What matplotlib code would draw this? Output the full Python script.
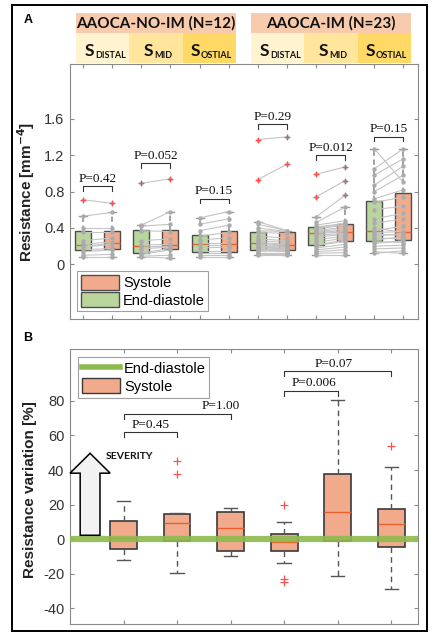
import matplotlib
matplotlib.use("Agg")
import matplotlib.pyplot as plt
from matplotlib.patches import Rectangle, Polygon, Patch
from matplotlib.lines import Line2D

plt.rcParams['axes.unicode_minus'] = False
plt.rcParams['font.family'] = ['Liberation Sans', 'DejaVu Sans']

# ---------------- Panel A data (resistance, mm^-4) ----------------
diast_noim_distal = [0.08, 0.10, 0.14, 0.16, 0.19, 0.20, 0.22, 0.26, 0.35, 0.40, 0.53, 0.71]
syst_noim_distal  = [0.08, 0.11, 0.16, 0.175, 0.22, 0.23, 0.25, 0.29, 0.35, 0.40, 0.57, 0.67]
diast_noim_mid    = [0.08, 0.09, 0.11, 0.123, 0.17, 0.19, 0.21, 0.26, 0.37, 0.42, 0.43, 0.89]
syst_noim_mid     = [0.07, 0.10, 0.16, 0.175, 0.19, 0.20, 0.22, 0.28, 0.36, 0.44, 0.58, 0.94]
diast_noim_ost    = [0.08, 0.10, 0.13, 0.143, 0.18, 0.21, 0.23, 0.27, 0.31, 0.37, 0.44, 0.51]
syst_noim_ost     = [0.08, 0.10, 0.13, 0.143, 0.19, 0.21, 0.23, 0.29, 0.35, 0.43, 0.50, 0.58]
diast_im_distal = [0.10, 0.11, 0.12, 0.13, 0.15, 0.155, 0.165, 0.18, 0.19, 0.20, 0.22, 0.23,
                   0.24, 0.26, 0.28, 0.31, 0.35, 0.37, 0.40, 0.44, 0.47, 0.93, 1.37]
syst_im_distal  = [0.10, 0.11, 0.12, 0.13, 0.14, 0.155, 0.165, 0.17, 0.18, 0.19, 0.20, 0.21,
                   0.22, 0.24, 0.26, 0.29, 0.34, 0.36, 0.36, 0.37, 0.37, 1.10, 1.40]
diast_im_mid = [0.10, 0.12, 0.14, 0.16, 0.18, 0.205, 0.215, 0.24, 0.27, 0.30, 0.32, 0.34,
                0.35, 0.36, 0.37, 0.39, 0.40, 0.41, 0.43, 0.46, 0.52, 0.74, 0.99]
syst_im_mid  = [0.10, 0.13, 0.16, 0.19, 0.22, 0.255, 0.265, 0.29, 0.31, 0.33, 0.34, 0.355,
                0.37, 0.39, 0.41, 0.43, 0.44, 0.45, 0.48, 0.63, 0.76, 0.92, 1.07]
diast_im_ost = [0.12, 0.14, 0.17, 0.20, 0.23, 0.25, 0.27, 0.29, 0.31, 0.33, 0.35, 0.37,
                0.40, 0.45, 0.50, 0.60, 0.68, 0.72, 0.80, 0.87, 0.98, 1.05, 1.27]
syst_im_ost  = [0.15, 0.12, 0.18, 0.21, 0.26, 0.24, 0.30, 0.28, 0.34, 0.32, 0.36, 0.42,
                0.35, 0.50, 0.56, 0.64, 0.74, 0.82, 0.98, 1.08, 1.16, 1.27, 0.90]

pairs_a = [(diast_noim_distal, syst_noim_distal), (diast_noim_mid, syst_noim_mid),
           (diast_noim_ost, syst_noim_ost), (diast_im_distal, syst_im_distal),
           (diast_im_mid, syst_im_mid), (diast_im_ost, syst_im_ost)]
p_labels_a = ["P=0.42", "P=0.052", "P=0.15", "P=0.29", "P=0.012", "P=0.15"]
p_heights_a = [0.86, 1.11, 0.72, 1.54, 1.20, 1.40]
yticks_a = [0, 0.4, 0.8, 1.2, 1.6]
yticklabels_a = ["0", "0.4", "0.8", "1.2", "1.6"]

# ---------------- Panel B data (resistance variation, %) ----------------
var_q1  = [-5.8, -1.2, -7.0, -7.0, -1.2, -4.6]
var_med = [1.0, 9.2, 6.4, -1.7, 16.0, 8.7]
var_q3  = [10.4, 14.5, 16.0, 3.0, 37.6, 17.3]
var_lo  = [-12.0, -19.7, -9.8, -14.0, -21.4, -29.0]
var_hi  = [22.0, 15.0, 18.0, 9.8, 80.6, 42.0]
var_fliers = [[], [45.0, 37.6], [], [20.0, -23.0, -25.0], [], [54.0]]
brackets_b = [(1, 2, 62.0, "P=0.45", 1.5), (1, 3, 72.5, "P=1.00", 2.82),
              (4, 5, 85.8, "P=0.006", 4.55), (4, 6, 97.0, "P=0.07", 4.92)]
yticks_b = [-40, -20, 0, 20, 40, 60, 80]

headers = ["AAOCA-NO-IM (N=12)", "AAOCA-IM (N=23)"]
segments = ["DISTAL", "MID", "OSTIAL"]

# ---------------- style ----------------
W, H = 435, 639
GREEN = '#B9D79C'
ORANGE = '#F1AB8C'
EDGE = '#4d4d4d'
MED = '#E8612A'
GREYPT = '#ABABAB'
GREYLN = '#C4C4C4'
TICKC = '#333333'
SPINE = '#8a8a8a'

fig = plt.figure(figsize=(W / 100, H / 100), dpi=100)

def fx(px):
    return px / W

def fy(py):
    return 1 - py / H

# outer frame
fig.add_artist(Rectangle((fx(12), fy(631)), fx(427) - fx(12), fy(5) - fy(631),
                         transform=fig.transFigure, fill=False, ec='black', lw=1.4))

# header bands
hdr_col = '#F8CBAD'
seg_cols = ['#FFF3D0', '#FFE69C', '#FFD966']
group_x = [(76, 236), (251, 411)]
for gi, (x0, x1) in enumerate(group_x):
    fig.add_artist(Rectangle((fx(x0), fy(33)), fx(x1) - fx(x0), fy(13) - fy(33),
                             transform=fig.transFigure, color=hdr_col, lw=0, zorder=0))
    cw = (x1 - x0) / 3
    for si in range(3):
        cx0 = x0 + si * cw
        fig.add_artist(Rectangle((fx(cx0), fy(63)), fx(cw), fy(33) - fy(63),
                                 transform=fig.transFigure, color=seg_cols[si], lw=0,
                                 zorder=0))

overlay = fig.add_axes([0, 0, 1, 1], zorder=10)
overlay.set_axis_off()
overlay.set_xlim(0, W)
overlay.set_ylim(H, 0)
for gi, (x0, x1) in enumerate(group_x):
    overlay.text((x0 + x1) / 2, 23.5, headers[gi], ha='center', va='center',
                 fontsize=11, weight='bold', family='Lato', color='#111111')

fig.canvas.draw()
renderer = fig.canvas.get_renderer()
s_starts = [85, 144, 191, 260, 319, 366]
for k, xs in enumerate(s_starts):
    t = overlay.text(xs, 55.5, "S", ha='left', va='baseline', fontsize=12.5,
                     weight='bold', family='Lato', color='#111111')
    bb = t.get_window_extent(renderer)
    x_end = bb.x1 * W / fig.bbox.width
    overlay.text(x_end + 0.3, 57.5, segments[k % 3], ha='left', va='baseline',
                 fontsize=6.5, weight='bold', family='Lato', color='#111111')

overlay.text(28, 20, "A", ha='center', va='center', fontsize=9, weight='bold')
overlay.text(28, 338, "B", ha='center', va='center', fontsize=9, weight='bold')

# ---------------- Panel A ----------------
axA = fig.add_axes([fx(70), fy(319), fx(418) - fx(70), fy(64) - fy(319)])
for i, (d, s) in enumerate(pairs_a):
    xd, xs_ = 2 * i + 1, 2 * i + 2
    for vd, vs in zip(d, s):
        axA.plot([xd, xs_], [vd, vs], color=GREYLN, lw=0.8, zorder=4)
    for x, vals, col in ((xd, d, GREEN), (xs_, s, ORANGE)):
        bp = axA.boxplot([vals], positions=[x], widths=0.55, patch_artist=True,
                         manage_ticks=False,
                         boxprops=dict(facecolor=col, edgecolor=EDGE, lw=1.0),
                         medianprops=dict(color=MED, lw=1.0),
                         whiskerprops=dict(color='#9a9a9a', lw=1.3, linestyle=(0, (3, 2))),
                         capprops=dict(color='#9a9a9a', lw=1.0),
                         flierprops=dict(marker='+', markeredgecolor='#FF5050',
                                         markersize=5, markeredgewidth=0.8))
        for art in bp['boxes']:
            art.set_zorder(2)
        for art in bp['medians']:
            art.set_zorder(3)
        for art in bp['fliers']:
            art.set_zorder(6)
        axA.plot([x] * len(vals), vals, 'o', color=GREYPT, ms=3.2, mec='none', zorder=5)
    # bracket
    yb = p_heights_a[i]
    axA.plot([xd, xd, xs_, xs_], [yb - 0.05, yb, yb, yb - 0.05], color='#333333', lw=0.8)
    axA.text((xd + xs_) / 2, yb + 0.015, p_labels_a[i], ha='center', va='bottom',
             fontsize=9.5, family='Liberation Serif', color='#111111')

axA.set_xlim(0.55, 12.5)
axA.set_ylim(-0.6, 2.2)
axA.set_xticks(range(1, 13))
axA.set_xticklabels([])
axA.set_yticks(yticks_a)
axA.set_yticklabels(yticklabels_a)
axA.tick_params(direction='in', length=3, top=True, right=True, labelsize=10.5,
                labelcolor=TICKC, color=SPINE, width=0.8, pad=4)
for sp in axA.spines.values():
    sp.set_color(SPINE)
    sp.set_linewidth(0.8)
axA.set_ylabel("Resistance [mm$^{\\mathbf{-4}}$]", fontsize=11, weight='bold', color='#222222')
axA.yaxis.set_label_coords(-0.095, 0.5)
legA = axA.legend(handles=[Patch(facecolor=ORANGE, edgecolor=EDGE, label='Systole'),
                           Patch(facecolor=GREEN, edgecolor=EDGE, label='End-diastole')],
                  loc='lower left', bbox_to_anchor=(0.02, 0.03), fontsize=10.5,
                  frameon=True, fancybox=False, edgecolor='#888888',
                  handlelength=2.6, handleheight=1.2, handletextpad=0.3,
                  borderpad=0.25, labelspacing=0.15, borderaxespad=0)
legA.get_frame().set_linewidth(0.8)

# ---------------- Panel B ----------------
axB = fig.add_axes([fx(70), fy(624), fx(418) - fx(70), fy(349) - fy(624)])
stats = []
for k in range(6):
    stats.append(dict(med=var_med[k], q1=var_q1[k], q3=var_q3[k],
                      whislo=var_lo[k], whishi=var_hi[k], fliers=var_fliers[k]))
bpB = axB.bxp(stats, positions=range(1, 7), widths=0.5, patch_artist=True,
              manage_ticks=False,
              boxprops=dict(facecolor=ORANGE, edgecolor='#3a3a3a', lw=1.2),
              medianprops=dict(color=MED, lw=1.0),
              whiskerprops=dict(color='#555555', lw=1.0, linestyle=(0, (4, 3))),
              capprops=dict(color='#555555', lw=1.0),
              flierprops=dict(marker='+', markeredgecolor='#FF5050', markersize=6,
                              markeredgewidth=0.9))
axB.axhline(0, color='#8DBA4E', lw=4.5, alpha=0.9, zorder=5)
for (x1, x2, yb, lab, xt) in brackets_b:
    axB.plot([x1, x1, x2, x2], [yb - 2.8, yb, yb, yb - 2.8], color='#333333', lw=0.8)
    axB.text(xt, yb + 0.8, lab, ha='center', va='bottom', fontsize=9.5,
             family='Liberation Serif', color='#111111')

arrow = Polygon([(0.19, 2.3), (0.19, 38.2), (0.0, 38.2), (0.375, 49.7), (0.75, 38.2),
                 (0.56, 38.2), (0.56, 2.3)], closed=True, facecolor='#F2F2F2',
                edgecolor='black', lw=1.1, clip_on=False, zorder=6)
axB.add_patch(arrow)
axB.text(1.12, 48.0, "SEVERITY", ha='center', va='center', fontsize=7.5,
         weight='bold', family='Lato', color='#111111')

axB.set_xlim(0, 6.5)
axB.set_ylim(-49, 110)
axB.set_xticks(range(1, 7))
axB.set_xticklabels([])
axB.set_yticks(yticks_b)
axB.set_yticklabels([str(v) for v in yticks_b])
axB.tick_params(direction='in', length=3, top=True, right=True, labelsize=10.5,
                labelcolor=TICKC, color=SPINE, width=0.8, pad=4)
for sp in axB.spines.values():
    sp.set_color(SPINE)
    sp.set_linewidth(0.8)
axB.set_ylabel("Resistance variation [%]", fontsize=11, weight='bold', color='#222222')
axB.yaxis.set_label_coords(-0.095, 0.49)
legB = axB.legend(handles=[Line2D([0], [0], color='#8DBA4E', lw=4, label='End-diastole'),
                           Patch(facecolor=ORANGE, edgecolor='#3a3a3a', label='Systole')],
                  loc='upper left', bbox_to_anchor=(0.023, 0.97), fontsize=10.5,
                  frameon=True, fancybox=False, edgecolor='#888888',
                  handlelength=2.6, handleheight=1.2, handletextpad=0.3,
                  borderpad=0.25, labelspacing=0.15, borderaxespad=0)
legB.get_frame().set_linewidth(0.8)

fig.savefig("out.png", dpi=100)
